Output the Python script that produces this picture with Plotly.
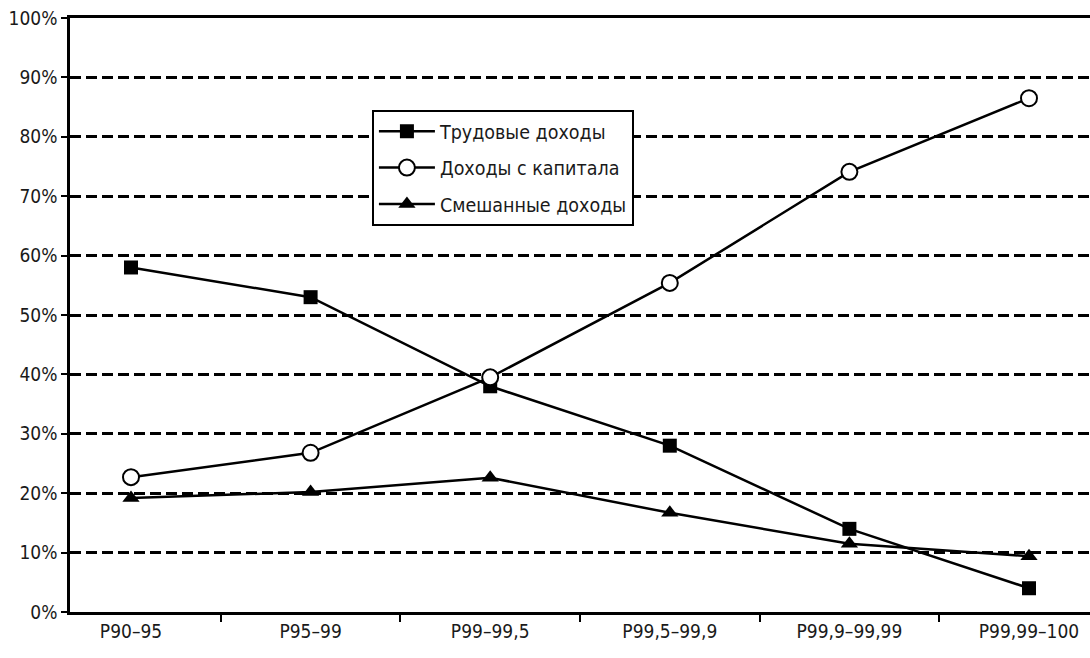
import plotly.graph_objects as go

categories = ['P90–95', 'P95–99', 'P99–99,5', 'P99,5–99,9', 'P99,9–99,99', 'P99,99–100']

trudovye = [58, 53, 38, 28, 14, 4]
kapital = [22.7, 26.8, 39.5, 55.4, 74.1, 86.5]
smeshannye = [19.2, 20.2, 22.6, 16.7, 11.5, 9.4]

series_names = ['Трудовые доходы', 'Доходы с капитала', 'Смешанные доходы']

FONT = 'DejaVu Sans Condensed, Liberation Sans Narrow, sans-serif'

fig = go.Figure()

# Трудовые доходы - квадраты
fig.add_trace(go.Scatter(
    x=categories, y=trudovye, name=series_names[0], legendgroup='a',
    mode='lines+markers',
    line=dict(color='black', width=2.5),
    marker=dict(symbol='square', size=14, color='black')
))

# Доходы с капитала - пустые круги
fig.add_trace(go.Scatter(
    x=categories, y=kapital, name=series_names[1], legendgroup='b',
    mode='lines+markers',
    line=dict(color='black', width=2.5),
    marker=dict(symbol='circle', size=16, color='white',
                line=dict(color='black', width=2))
))

# Смешанные доходы - треугольники
fig.add_trace(go.Scatter(
    x=categories, y=smeshannye, name=series_names[2], legendgroup='c',
    mode='lines+markers',
    line=dict(color='black', width=2.5),
    marker=dict(symbol='triangle-up', size=15, color='black')
))

fig.update_layout(
    width=1090, height=658,
    margin=dict(l=70, r=0, t=18, b=46),
    plot_bgcolor='white', paper_bgcolor='white',
    font=dict(family=FONT, size=19, color='#1a1a1a'),
    showlegend=True,
    legend=dict(
        x=0.296, y=0.845, xanchor='left', yanchor='top',
        bgcolor='white', bordercolor='black', borderwidth=2,
        font=dict(size=19.5, family=FONT),
        itemwidth=56, tracegroupgap=8
    )
)

fig.update_xaxes(
    type='category',
    showline=True, linecolor='black', linewidth=2.5, mirror=True,
    ticks='outside', ticklen=7, tickwidth=2, tickcolor='black',
    tickson='boundaries',
    showgrid=False, zeroline=False,
    tickfont=dict(size=19)
)

fig.update_yaxes(
    range=[0, 100], dtick=10, ticksuffix='%',
    showline=True, linecolor='black', linewidth=2.5,
    ticks='outside', ticklen=6, tickwidth=2, tickcolor='black',
    showgrid=True, gridcolor='black', gridwidth=3, griddash='11px,5px',
    zeroline=False,
    tickfont=dict(size=19)
)

# pas de marge autour du graphique dans la page
fig.write_html("out.html", config={'displayModeBar': False},
               post_script="document.body.style.margin='0';")
